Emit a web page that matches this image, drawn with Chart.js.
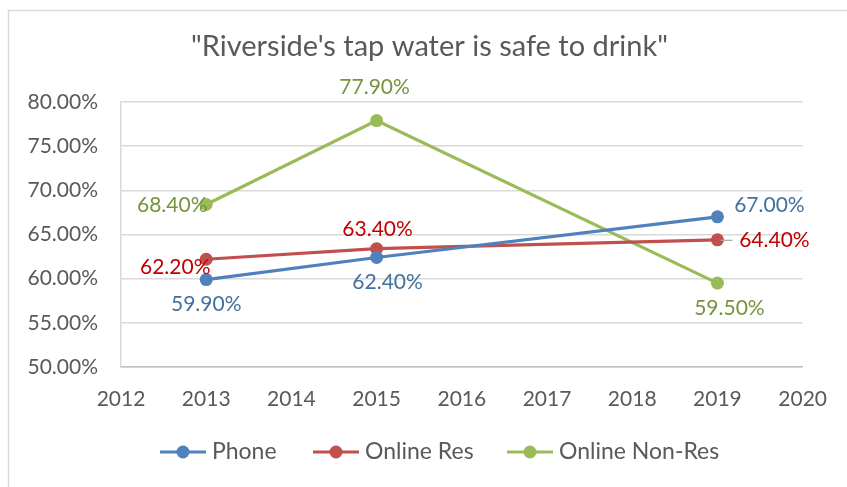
<!DOCTYPE html>
<html>
<head>
<meta charset="utf-8">
<script src="https://cdn.jsdelivr.net/npm/chart.js@4/dist/chart.umd.min.js"></script>
<style>
  html, body { margin: 0; padding: 0; background: #fff; }
  #wrap { position: relative; width: 847px; height: 487px; }
</style>
</head>
<body>
<div id="wrap"><canvas id="c" width="847" height="487"></canvas></div>
<script>
const chartTitle = '"Riverside\'s tap water is safe to drink"';
const years = [2013, 2015, 2019];
const seriesNames = ["Phone", "Online Res", "Online Non-Res"];
const phone = [59.9, 62.4, 67.0];
const onlineRes = [62.2, 63.4, 64.4];
const onlineNonRes = [68.4, 77.9, 59.5];
const xTicks = [2012, 2013, 2014, 2015, 2016, 2017, 2018, 2019, 2020];
const yTicks = [50, 55, 60, 65, 70, 75, 80];

const FONT = "Lato, 'Open Sans', sans-serif";
const lineColors = ["#4F81BD", "#C0504D", "#9BBB59"];
const labelColors = ["#41719C", "#C00000", "#77933C"];
// label placement per series/point: [dx, dy] offset from point centre (style only)
const labelOffsets = [
  [[0, 25], [11, 25], [52, -12]],
  [[-31, 8], [1, -19], [57, 0]],
  [[-34, 1], [-2, -33], [12, 25]]
];

const seriesValues = [phone, onlineRes, onlineNonRes];
const datasets = seriesValues.map((vals, i) => ({
  label: seriesNames[i],
  data: years.map((y, j) => ({ x: y, y: vals[j] })),
  borderColor: lineColors[i],
  backgroundColor: lineColors[i],
  borderWidth: 3.2,
  pointRadius: 6.5,
  pointHoverRadius: 6.5,
  pointBorderWidth: 0,
  tension: 0
}));

const framePlugin = {
  id: 'frame',
  beforeDraw(chart) {
    const ctx = chart.ctx;
    ctx.save();
    ctx.fillStyle = '#fff';
    ctx.fillRect(0, 0, chart.width, chart.height);
    ctx.strokeStyle = '#D9D9D9';
    ctx.lineWidth = 1.5;
    ctx.strokeRect(8.5, 10.5, 1000, 1000);
    ctx.fillStyle = '#595959';
    ctx.font = "29px " + FONT;
    ctx.textAlign = 'center';
    ctx.textBaseline = 'middle';
    ctx.fillText(chartTitle, 429.5, 47);
    ctx.restore();
  }
};

const labelPlugin = {
  id: 'pointLabels',
  afterDatasetsDraw(chart) {
    const ctx = chart.ctx;
    ctx.save();
    ctx.font = "21px " + FONT;
    ctx.textAlign = 'center';
    ctx.textBaseline = 'middle';
    chart.data.datasets.forEach((ds, i) => {
      const meta = chart.getDatasetMeta(i);
      meta.data.forEach((pt, j) => {
        const off = labelOffsets[i][j];
        const v = ds.data[j].y;
        const txt = v.toFixed(2) + '%';
        if (i === 1 && j === 2) {
          ctx.strokeStyle = '#A6A6A6';
          ctx.lineWidth = 1.2;
          ctx.beginPath();
          ctx.moveTo(pt.x + 3, pt.y + 0.5);
          ctx.lineTo(pt.x + 15, pt.y + 0.5);
          ctx.stroke();
        }
        ctx.fillStyle = labelColors[i];
        ctx.fillText(txt, pt.x + off[0], pt.y + off[1]);
      });
    });
    ctx.restore();
  }
};

const legendPlugin = {
  id: 'customLegend',
  afterDraw(chart) {
    const ctx = chart.ctx;
    ctx.save();
    ctx.font = "23px " + FONT;
    ctx.textBaseline = 'middle';
    const y = 452;
    const starts = [160, 313, 507];
    chart.data.datasets.forEach((ds, i) => {
      const x0 = starts[i];
      ctx.strokeStyle = ds.borderColor;
      ctx.lineWidth = 3.2;
      ctx.beginPath();
      ctx.moveTo(x0, y);
      ctx.lineTo(x0 + 46, y);
      ctx.stroke();
      ctx.fillStyle = ds.borderColor;
      ctx.beginPath();
      ctx.arc(x0 + 23, y, 6.5, 0, Math.PI * 2);
      ctx.fill();
      ctx.fillStyle = '#595959';
      ctx.fillText(ds.label, x0 + 52, y);
    });
    ctx.restore();
  }
};

new Chart(document.getElementById('c'), {
  type: 'line',
  data: { datasets },
  plugins: [framePlugin, labelPlugin, legendPlugin],
  options: {
    responsive: false,
    animation: false,
    layout: { padding: { top: 102, left: 0, right: 43, bottom: 80 } },
    plugins: {
      legend: { display: false },
      tooltip: { enabled: false },
      title: { display: false }
    },
    scales: {
      x: {
        type: 'linear',
        min: 2012,
        max: 2020,
        afterBuildTicks(scale) { scale.ticks = xTicks.map(v => ({ value: v })); },
        afterFit(scale) { scale.height = 40; },
        ticks: {
          color: '#595959',
          font: { family: FONT, size: 21 },
          padding: 20,
          maxRotation: 0,
          autoSkip: false,
          callback: v => String(v)
        },
        grid: { display: false, drawTicks: false },
        border: { display: true, color: '#BFBFBF', width: 1.5 }
      },
      y: {
        min: 50,
        max: 80,
        afterBuildTicks(scale) { scale.ticks = yTicks.map(v => ({ value: v })); },
        afterFit(scale) { scale.width = 121; },
        ticks: {
          color: '#595959',
          font: { family: FONT, size: 21 },
          padding: 23,
          callback: v => v.toFixed(2) + '%'
        },
        grid: { color: '#D9D9D9', lineWidth: 1.5, drawTicks: false },
        border: { display: true, color: '#D9D9D9', width: 1.5 }
      }
    }
  }
});
</script>
</body>
</html>
